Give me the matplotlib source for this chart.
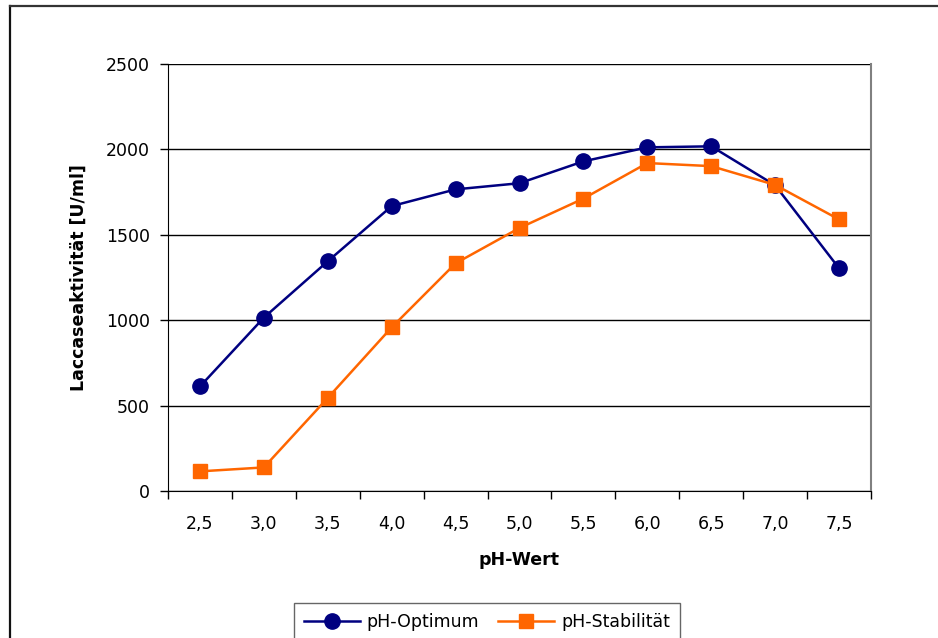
import matplotlib.pyplot as plt
from matplotlib.lines import Line2D
import numpy as np

# pH-Werte (Kategorien) und Messwerte
ph_labels = ["2,5", "3,0", "3,5", "4,0", "4,5", "5,0", "5,5", "6,0", "6,5", "7,0", "7,5"]
ph_optimum = [612, 1015, 1345, 1668, 1766, 1802, 1930, 2012, 2018, 1790, 1304]
ph_stabilitaet = [115, 138, 545, 958, 1333, 1540, 1712, 1920, 1902, 1792, 1590]

plt.rcParams['font.family'] = ['DejaVu Sans']

fig = plt.figure(figsize=(9.38, 6.38), dpi=100)
ax = fig.add_axes([168 / 938, 1 - 491 / 638, (871 - 168) / 938, (491 - 64) / 638])

x = np.arange(len(ph_labels))
ax.plot(x, ph_optimum, color='#000080', lw=1.8, marker='o', markersize=11,
        label='pH-Optimum', zorder=3)
ax.plot(x, ph_stabilitaet, color='#FF6600', lw=1.8, marker='s', markersize=10.5,
        label='pH-Stabilität', zorder=3)

ax.set_xlim(-0.5, len(ph_labels) - 0.5)
ax.set_ylim(0, 2500)
ax.set_yticks(range(0, 2501, 500))
ax.yaxis.grid(True, color='black', lw=1)
ax.set_axisbelow(True)

# Kategorienachse: Striche zwischen den Kategorien
ax.set_xticks(np.arange(-0.5, len(ph_labels), 1))
ax.set_xticklabels([])
ax.set_xticks(x, minor=True)
ax.set_xticklabels(ph_labels, minor=True)
ax.tick_params(axis='x', which='major', length=6, width=1, color='black')
ax.tick_params(axis='x', which='minor', length=0, pad=17, labelsize=12.5)
ax.tick_params(axis='y', length=6, width=1, pad=7, labelsize=12.5)

for s in ['left', 'bottom']:
    ax.spines[s].set_color('black')
ax.spines['top'].set_visible(False)
ax.spines['right'].set_color('#808080')
ax.spines['right'].set_linewidth(1.5)

ax.set_xlabel('pH-Wert', fontsize=12.5, fontweight='bold', labelpad=13)
ax.set_ylabel('Laccaseaktivität [U/ml]', fontsize=12.5, fontweight='bold', labelpad=13)

leg = fig.legend(loc='upper center', bbox_to_anchor=(487 / 938, 1 - 603 / 638), ncol=2,
                 frameon=True, fancybox=False, fontsize=12.5, handlelength=3.2,
                 columnspacing=1.1, handletextpad=0.4, borderpad=0.6, borderaxespad=0)
leg.get_frame().set_edgecolor('#404040')
leg.get_frame().set_linewidth(1)

# Rahmen des Diagrammbereichs (nur links und oben sichtbar)
x0, y0 = 9.5 / 938, 1 - 5.5 / 638
fig.add_artist(Line2D([x0, x0], [-0.1, y0], transform=fig.transFigure,
                      color='#111111', lw=1.6, solid_capstyle='projecting'))
fig.add_artist(Line2D([x0, 1.1], [y0, y0], transform=fig.transFigure,
                      color='#333333', lw=1.6, solid_capstyle='projecting'))

fig.savefig('out.png', dpi=100)
